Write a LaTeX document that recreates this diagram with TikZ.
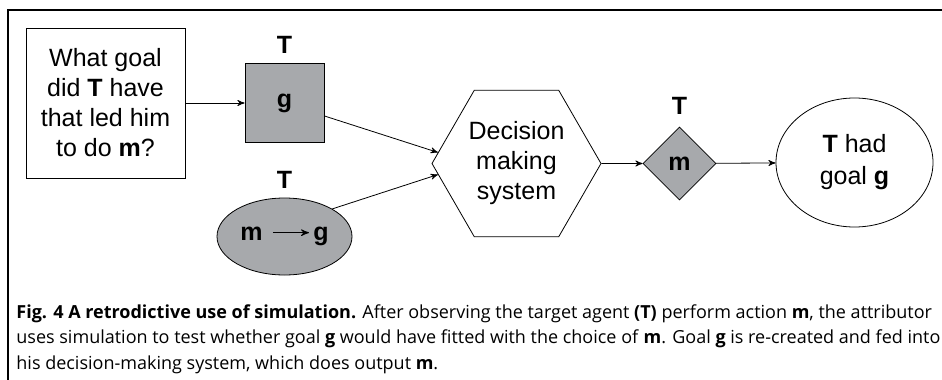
\documentclass[tikz,border=0pt]{standalone}
\usepackage{fontspec}
\setmainfont{Liberation Sans}
\newfontfamily\capfont{Open Sans}
\usetikzlibrary{arrows,positioning,shapes.geometric}
\definecolor{boxgrey}{HTML}{A7A9AC}

\begin{document}
\begin{tikzpicture}[x=0.5pt,y=-0.5pt,>=stealth',node distance=3pt,
    font=\fontsize{12.5}{15}\selectfont,
    every node/.style={align=center}]
  \useasboundingbox (0,0) rectangle (942,380);
  \tikzset{grey/.style={draw,fill=boxgrey,font=\fontsize{12.5}{15}\selectfont\bfseries}}
  \tikzset{agent/.style={inner sep=1.5pt,font=\fontsize{12.5}{15}\selectfont\bfseries}}

  % frame
  \draw[line width=1pt] (8,380) -- (8,10) -- (942,10);

  \node[draw,minimum width=79.5pt,minimum height=75pt] (q) at (105.5,103)
        {What goal\\did \textbf{T} have\\that led him\\to do \textbf{m}?};
  \node[grey,minimum size=39.5pt] (g) at (284.5,103) {g};
  \node[agent] (tg) [above=of g] {T};
  \node[grey,ellipse,minimum width=67.5pt,minimum height=38.5pt,inner sep=0pt] (mg) at (284.5,236.5)
        {m\hspace{5pt}\tikz[baseline=-0.6ex]\draw[-stealth',line width=0.5pt] (0pt,0pt) -- (18pt,0pt);\hspace{2pt}g};
  \node[agent] (tmg) [above=of mg] {T};
  \node[draw,regular polygon,regular polygon sides=6,minimum size=84.5pt,inner sep=0pt] (dm) at (516.5,163.5)
        {Decision\\making\\system};
  \node[grey,diamond,minimum width=36.5pt,minimum height=36.5pt,inner sep=0pt] (m) at (679.5,163.5) {m};
  \node[agent] (tm) [above=4.5pt of m] {T};
  \node[draw,ellipse,minimum width=78.5pt,minimum height=64.5pt,inner sep=0pt] (res) at (854.5,162.5)
        {\textbf{T} had\\[1pt]goal \textbf{g}};

  \path[->] (q)     edge (g)
            (g.-18) edge (dm.172)
            (mg.30) edge (dm.188)
            (dm)    edge (m)
            (m)     edge (res);

  % caption
  \node[anchor=north west,align=left,inner sep=0pt,font=\capfont\fontsize{9}{12.75}\selectfont] (cap) at (16,304)
        {\textbf{Fig. 4 A retrodictive use of simulation.} After observing the target agent \textbf{(T)} perform action \textbf{m}, the attributor\\
         uses simulation to test whether goal \textbf{g} would have fitted with the choice of \textbf{m}. Goal \textbf{g} is re-created and fed into\\
         his decision-making system, which does output \textbf{m}.};
\end{tikzpicture}
\end{document}
